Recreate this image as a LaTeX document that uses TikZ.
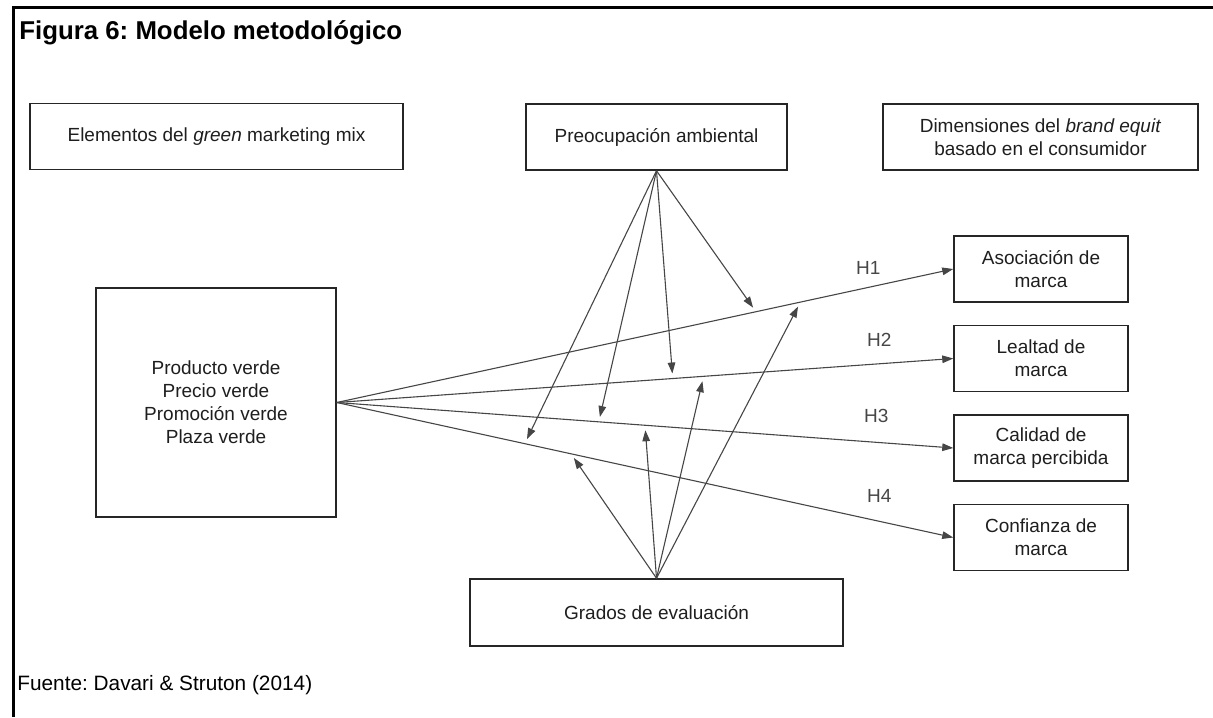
\documentclass[tikz,border=0pt]{standalone}
\usepackage{fontspec}
\setmainfont{Liberation Sans}
\usetikzlibrary{calc,arrows.meta}
\definecolor{lineGray}{HTML}{464646}
\definecolor{boxGray}{HTML}{262626}
\definecolor{textGray}{HTML}{1E1E1E}
\frenchspacing

\begin{document}
\begin{tikzpicture}[x=0.5pt, y=-0.5pt,
  box/.style={draw=boxGray, line width=0.75pt, inner sep=0pt, align=center,
    text=textGray, font=\fontsize{9.5}{11.5}\selectfont},
  link/.style={draw=lineGray, line width=0.55pt,
    -{Triangle[length=5.5pt, width=3.8pt]}},
  hyp/.style={text=lineGray, font=\fontsize{9.5}{11.5}\selectfont}]
  \useasboundingbox (0,0) rectangle (1213,717);
  \def\rowSep{89.5}

  % Frame and captions
  \draw[line width=1.4pt] (13.3,717) -- (13.3,7.3) -- (1213,7.3);
  \node[anchor=base west, inner sep=0pt, font=\fontsize{12.9}{15}\selectfont\bfseries]
    (title) at (19,40) {Figura 6: Modelo metodológico};
  \node[anchor=base west, inner sep=0pt, font=\fontsize{10.4}{12}\selectfont]
    (source) at (17,690) {Fuente: Davari \& Struton (2014)};

  % Header section: nodes
  \node[box, minimum width=186.5pt, minimum height=33pt] (mix) at (216.5,136.5)
    {Elementos del \textit{green} marketing mix};
  \node[box, minimum width=130.5pt, minimum height=33pt] (preo) at (656.5,137)
    {Preocupación ambiental};
  \node[box, minimum width=157.5pt, minimum height=33pt] (dim) at (1040.5,137)
    {Dimensiones del \textit{brand equit}\\basado en el consumidor};

  % Model section: nodes
  \node[box, minimum width=120pt, minimum height=114.5pt] (green) at (216,402.5)
    {Producto verde\\Precio verde\\Promoción verde\\Plaza verde};
  \node[box, minimum width=87pt, minimum height=33pt] (asoc) at (1041,269)
    {Asociación de\\marca};
  \node[box, minimum width=87pt, minimum height=33pt] (lealt) at ($(asoc)+(0,\rowSep)$)
    {Lealtad de\\marca};
  \node[box, minimum width=87pt, minimum height=33pt] (calid) at ($(lealt)+(0,\rowSep)$)
    {Calidad de\\marca percibida};
  \node[box, minimum width=87pt, minimum height=33pt] (conf) at ($(calid)+(0,\rowSep)$)
    {Confianza de\\marca};
  \node[box, minimum width=186.5pt, minimum height=33.5pt] (grados) at (656.5,612.5)
    {Grados de evaluación};

  % Model section: connections
  \draw[link] (green.east) -- (asoc.west) node[hyp, pos=0.862, above=3pt] {H1}
    coordinate[pos=0.68] (h1p) coordinate[pos=0.752] (h1g);
  \draw[link] (green.east) -- (lealt.west) node[hyp, pos=0.88, above=5pt] {H2}
    coordinate[pos=0.545] (h2p) coordinate[pos=0.595] (h2g);
  \draw[link] (green.east) -- (calid.west) node[hyp, pos=0.875, above=6pt] {H3}
    coordinate[pos=0.425] (h3p) coordinate[pos=0.5] (h3g);
  \draw[link] (green.east) -- (conf.west) node[hyp, pos=0.88, above=6pt] {H4}
    coordinate[pos=0.305] (h4p) coordinate[pos=0.38] (h4g);

  % Moderators: connections
  \foreach \h in {h1p, h2p, h3p, h4p}
    \draw[link, shorten >=2.5pt] (preo.south) -- (\h);
  \foreach \h in {h1g, h2g, h3g, h4g}
    \draw[link, shorten >=2.5pt] (grados.north) -- (\h);
\end{tikzpicture}
\end{document}
